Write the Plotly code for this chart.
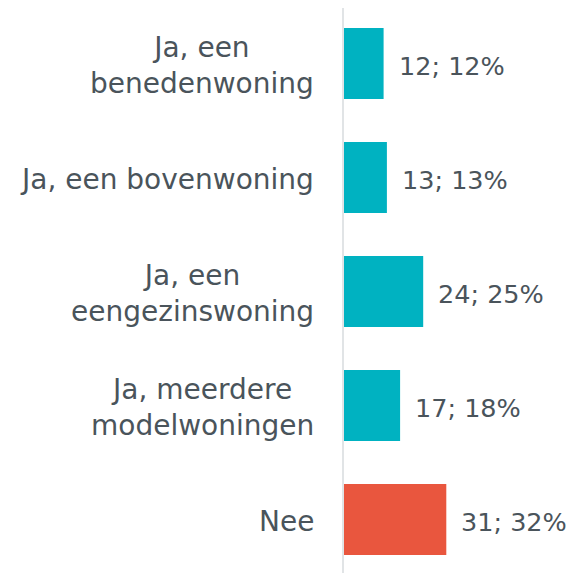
import plotly.graph_objects as go

categories = ["Ja, een<br>benedenwoning", "Ja, een bovenwoning", "Ja, een<br>eengezinswoning",
              "Ja, meerdere<br>modelwoningen", "Nee"]
counts = [12, 13, 24, 17, 31]
percents = [12, 13, 25, 18, 32]
colors = ["#00B2C1", "#00B2C1", "#00B2C1", "#00B2C1", "#E9563E"]
labels = [f"{c}; {p}%" for c, p in zip(counts, percents)]

TEXT = "#4A545B"
FONT = "DejaVu Sans"

fig = go.Figure(go.Bar(
    y=categories, x=counts, orientation="h",
    marker=dict(color=colors, line=dict(width=0)),
    hoverinfo="skip",
))

for cat, val, lab in zip(categories, counts, labels):
    # value label right of the bar
    fig.add_annotation(x=val, y=cat, text=lab, showarrow=False, xanchor="left",
                       xshift=13, yshift=-2, font=dict(family=FONT, size=25.5, color=TEXT))
    # category label, centred lines, right-aligned block
    fig.add_annotation(x=0, xref="paper", y=cat, text=cat, showarrow=False,
                       xanchor="right", align="center", xshift=-28, yshift=-2,
                       font=dict(family=FONT, size=28, color=TEXT))

fig.update_layout(
    width=566, height=565,
    margin=dict(l=336, r=0, t=0, b=0),
    paper_bgcolor="white", plot_bgcolor="white",
    bargap=0.377, showlegend=False,
    font=dict(family=FONT, size=28, color=TEXT),
)
fig.update_xaxes(range=[0, 69.7], visible=False, fixedrange=True)
fig.update_yaxes(range=[4.469, -0.487], showline=True, linecolor="#E1E4E6", linewidth=2,
                 showgrid=False, zeroline=False, ticks="", showticklabels=False)

fig.write_html("out.html")
